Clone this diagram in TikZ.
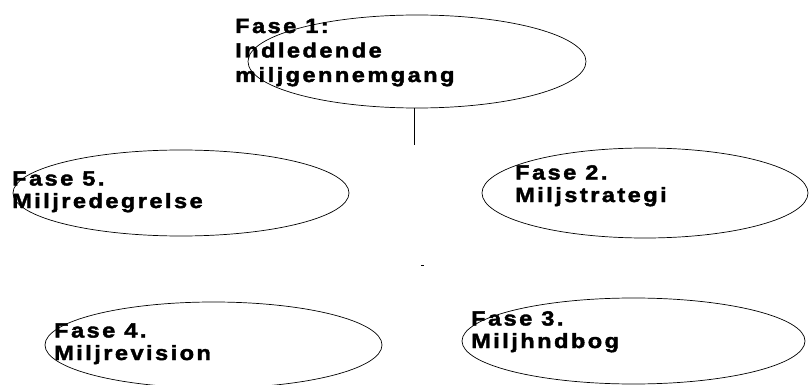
\documentclass[tikz,border=0pt]{standalone}
\usepackage{fontspec}
\newfontfamily\labfont{Liberation Sans Bold}[LetterSpace=12,FakeBold=2,FakeStretch=1.15]
\usetikzlibrary{shapes.geometric}
\begin{document}
\begin{tikzpicture}[x=1pt,y=-1pt,
  oval/.style={draw=black,line width=0.7pt,ellipse,inner sep=0pt},
  label/.style={anchor=base west,align=left,inner sep=0pt,font=\labfont\fontsize{20.5}{22.5}\selectfont}]
\useasboundingbox (0,0) rectangle (809,385);
% ellipses
\node[oval,minimum width=338pt,minimum height=93pt] (e1) at (417,61.5) {};
\node[oval,minimum width=336pt,minimum height=86pt] (e5) at (181,193) {};
\node[oval,minimum width=326pt,minimum height=90pt] (e2) at (645,193) {};
\node[oval,minimum width=337pt,minimum height=86pt] (e4) at (213.5,345) {};
\node[oval,minimum width=343pt,minimum height=86pt] (e3) at (633.5,341) {};
% texts (anchored at the baseline of their last line)
\node[label,font=\labfont\fontsize{20.5}{24.5}\selectfont] (t1) at (235,82) {Fase 1:\\Indledende\\miljgennemgang};
\node[label] (t5) at (12,208) {Fase 5.\\Miljredegrelse};
\node[label] (t2) at (515,202) {Fase 2.\\Miljstrategi};
\node[label] (t4) at (54,360) {Fase 4.\\Miljrevision};
\node[label] (t3) at (471,348) {Fase 3.\\Miljhndbog};
% connector
\coordinate (c1) at (414,145);
\draw[line width=0.7pt] (e1.south -| c1) -- (c1);
% stray dot
\fill (421,264.5) rectangle (424,266);
\end{tikzpicture}
\end{document}
